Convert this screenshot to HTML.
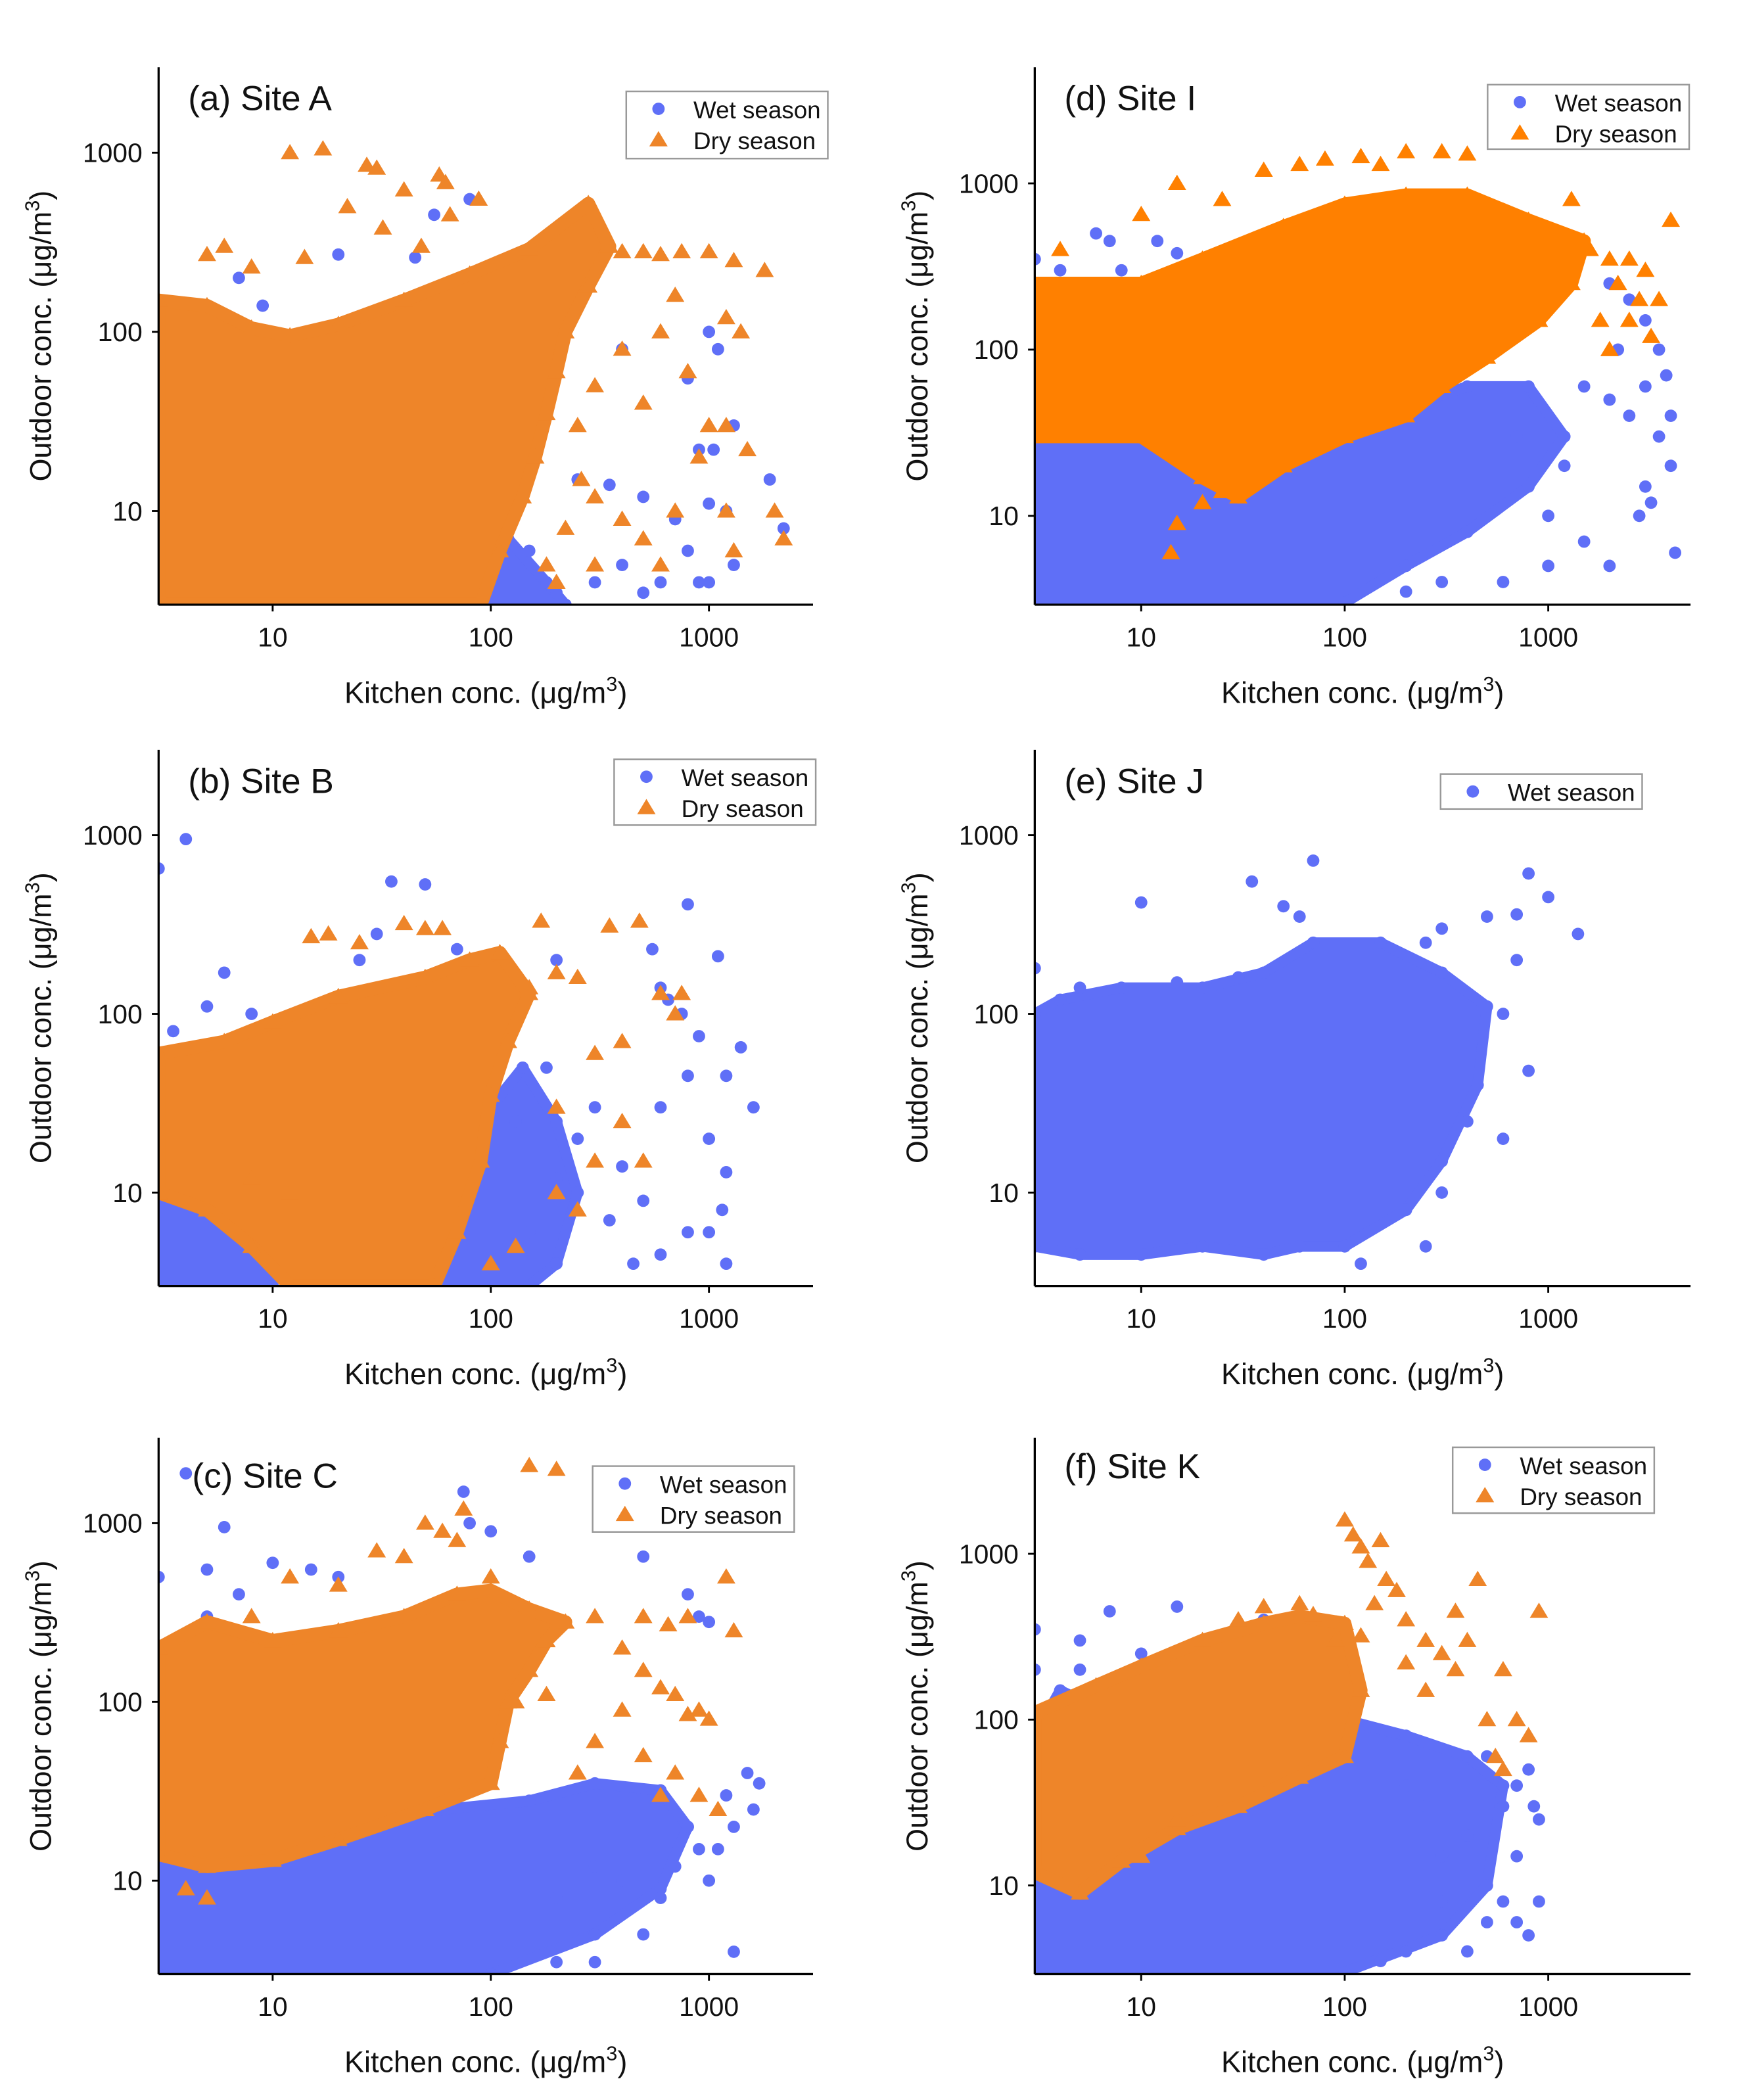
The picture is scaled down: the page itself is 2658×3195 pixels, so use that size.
<!DOCTYPE html>
<html><head><meta charset="utf-8"><style>
html,body{margin:0;padding:0;background:#fff}
svg{display:block}
text{font-family:"Liberation Sans",Arial,sans-serif;fill:#111}
</style></head><body>
<svg id="fig" width="2658" height="3195" viewBox="0 0 1300 1562.7" xmlns="http://www.w3.org/2000/svg"></svg>
<script>
// ---------- DATA (kitchen, outdoor in µg/m3) ----------
const aWetCloud=[[70,3],[90,6],[120,7],[180,4],[220,3]];
const aDryCloud=[[3,3],[3,150],[5,140],[8,105],[12,95],[20,110],[40,150],[80,210],[150,290],[280,520],[350,300],[280,180],[220,100],[200,60],[180,35],[160,20],[140,12],[110,6],[90,3]];
const aDry=[[12,1000],[17,1050],[27,850],[30,820],[40,620],[58,750],[62,680],[22,500],[32,380],[48,300],[65,450],[88,550],[5,270],[6,300],[14,260],[8,230],[400,280],[500,280],[600,270],[750,280],[1000,280],[1300,250],[1800,220],[700,160],[1200,120],[1400,100],[600,100],[400,80],[800,60],[1000,30],[1200,30],[900,20],[1500,22],[700,10],[1200,10],[2000,10],[2200,7],[1300,6],[500,7],[300,5],[600,5],[200,4],[400,9],[500,40],[300,50],[250,30],[260,15],[220,8],[300,12],[180,5]];
const aWet=[[80,550],[55,450],[20,270],[45,260],[7,200],[9,140],[1000,100],[1100,80],[800,55],[400,80],[1300,30],[1050,22],[900,22],[1900,15],[1000,11],[1200,10],[700,9],[2200,8],[1300,5],[900,4],[1000,4],[600,4],[800,6],[400,5],[300,4],[200,3.5],[500,3.5],[150,6],[350,14],[250,15],[500,12]];

const bWetCloud=[[3,3],[3,12],[6,9],[8,6],[10,3]];
const bWetCloud2=[[50,3],[70,10],[100,30],[140,50],[200,25],[250,10],[200,4],[150,3]];
const bDryCloud=[[3,10],[3,60],[6,70],[10,90],[20,125],[50,160],[80,200],[110,220],[150,130],[120,70],[100,35],[90,15],[70,6],[55,3],[12,3],[8,5],[5,8]];
const bDry=[[15,270],[18,280],[25,250],[40,320],[50,300],[60,300],[170,330],[350,310],[480,330],[250,160],[200,170],[150,140],[600,130],[750,130],[700,100],[400,70],[300,60],[200,30],[400,25],[500,15],[300,15],[200,10],[250,8],[130,5],[100,4],[8,12],[12,10]];
const bWet=[[4,950],[3,650],[35,550],[50,530],[25,200],[30,280],[70,230],[6,170],[5,110],[8,100],[3.5,80],[200,200],[550,230],[800,410],[1100,210],[600,140],[750,100],[650,120],[900,75],[1400,65],[1200,45],[800,45],[600,30],[1000,20],[1600,30],[1200,13],[1150,8],[1000,6],[800,6],[500,9],[400,14],[300,30],[250,20],[200,12],[350,7],[450,4],[600,4.5],[1200,4],[150,6],[130,25],[180,50]];

const cWetCloud=[[3,3],[3,60],[4,40],[8,22],[20,22],[60,25],[150,28],[300,35],[600,32],[800,20],[600,9],[300,5],[100,3]];
const cDryCloud=[[3,14],[3,200],[5,280],[10,220],[20,250],[40,300],[70,400],[100,420],[150,330],[220,280],[180,220],[150,150],[120,100],[110,60],[100,35],[50,25],[20,17],[10,13],[5,12]];
const cDry=[[150,2100],[200,2000],[75,1200],[60,900],[50,1000],[30,700],[40,650],[70,800],[20,450],[12,500],[8,300],[100,500],[300,300],[500,300],[650,270],[1200,500],[1300,250],[800,300],[400,200],[500,150],[600,120],[700,110],[900,90],[1000,80],[800,85],[400,90],[300,60],[500,50],[700,40],[900,30],[1100,25],[600,30],[250,40],[180,110],[130,100],[5,8],[4,9]];
const cWet=[[4,1900],[6,950],[75,1500],[100,900],[80,1000],[150,650],[500,650],[3,500],[5,550],[7,400],[10,600],[15,550],[20,500],[5,300],[3.5,200],[800,400],[900,300],[1000,280],[1500,40],[1700,35],[1200,30],[1300,20],[1600,25],[900,15],[700,12],[1000,10],[1300,4],[500,5],[300,3.5],[200,3.5],[600,8],[800,20],[1100,15],[400,10],[300,12],[200,8]];

const dWetCloud=[[3,3],[3,45],[6,35],[15,25],[50,25],[150,40],[400,60],[800,60],[1200,30],[800,15],[400,8],[200,5],[100,3]];
const dDryCloud=[[3,30],[3,250],[10,250],[20,350],[50,550],[100,750],[200,850],[400,850],[800,600],[1500,450],[1300,250],[900,150],[500,90],[300,60],[200,40],[100,30],[50,20],[30,13],[20,17],[10,30],[5,30]];
const dDry=[[300,1550],[400,1500],[200,1550],[150,1300],[120,1450],[80,1400],[60,1300],[40,1200],[15,1000],[25,800],[10,650],[1300,800],[1600,400],[2000,350],[2500,350],[3000,300],[2200,250],[2800,200],[3500,200],[1800,150],[2500,150],[3200,120],[4000,600],[2000,100],[3,250],[4,400],[14,6],[15,9],[20,12],[25,14],[6,60]];
const dWet=[[3,350],[4,300],[6,500],[7,450],[8,300],[12,450],[15,380],[20,350],[5,200],[12,150],[3,200],[1500,400],[2000,250],[2500,200],[3000,150],[2200,100],[3500,100],[3800,70],[3000,60],[4000,40],[3500,30],[2500,40],[2000,50],[1500,60],[3000,15],[4000,20],[4200,6],[2000,5],[1000,5],[1500,7],[600,4],[300,4],[200,3.5],[1000,10],[1200,20],[700,30],[2800,10],[3200,12]];

const eWetCloud=[[3,5],[3,100],[4,120],[8,140],[20,140],[40,170],[70,250],[150,250],[300,170],[500,110],[450,40],[300,15],[200,8],[100,5],[60,5],[40,4.5],[20,5],[10,4.5],[5,4.5]];
const eWet=[[10,420],[35,550],[70,720],[800,610],[1000,450],[1400,280],[700,360],[500,350],[300,300],[250,250],[50,400],[60,350],[800,48],[600,20],[400,25],[300,10],[250,5],[120,4],[3,180],[5,140],[15,150],[30,160],[700,200],[600,100]];

const fWetCloud=[[3,3],[3,80],[4,150],[8,100],[20,100],[60,130],[100,100],[200,80],[400,60],[600,40],[500,10],[300,5],[100,3]];
const fDryCloud=[[3,12],[3,110],[6,160],[10,210],[20,300],[40,380],[60,420],[100,380],[120,150],[100,60],[60,45],[30,30],[15,22],[8,14],[5,9]];
const fDry=[[100,1600],[120,1100],[110,1300],[150,1200],[130,900],[160,700],[140,500],[180,600],[200,400],[250,300],[300,250],[350,200],[400,300],[450,700],[600,200],[700,100],[800,80],[900,450],[350,450],[250,150],[200,220],[500,100],[600,50],[550,60],[15,25],[10,15],[60,500],[40,480],[30,400],[80,250],[90,300],[70,430],[120,320]];
const fWet=[[3,350],[5,300],[7,450],[15,480],[40,400],[3,200],[5,200],[10,250],[800,50],[900,25],[850,30],[700,40],[600,30],[500,60],[400,20],[300,15],[700,15],[800,5],[600,8],[500,6],[400,4],[700,6],[200,4],[150,3.5],[300,8],[900,8],[250,30],[200,40]];

const xTicks=[10,100,1000];
const yTicks=[10,100,1000];

// ---------- LAYOUT ----------
const WET='#5f6ff7', DRY='#ee8529';
const NS='http://www.w3.org/2000/svg';
const svg=document.getElementById('fig');
function mk(tag,attrs,parent){const e=document.createElementNS(NS,tag);for(const k in attrs)e.setAttribute(k,attrs[k]);(parent||svg).appendChild(e);return e;}

const panels=[
 {id:'a',title:'(a) Site A',x0:118,x1:605,yb:450,yt:50,xd:[3,3000],yd:[3,3000],wet:aWet,dry:aDry,wc:[aWetCloud],dc:aDryCloud,dryCol:DRY,leg:[466,68,150,50],tx:140,ty:82},
 {id:'b',title:'(b) Site B',x0:118,x1:605,yb:957,yt:558,xd:[3,3000],yd:[3,3000],wet:bWet,dry:bDry,wc:[bWetCloud,bWetCloud2],dc:bDryCloud,dryCol:DRY,leg:[457,565,150,49],tx:140,ty:590},
 {id:'c',title:'(c) Site C',x0:118,x1:605,yb:1469,yt:1070,xd:[3,3000],yd:[3,3000],wet:cWet,dry:cDry,wc:[cWetCloud],dc:cDryCloud,dryCol:DRY,leg:[441,1091,150,49],tx:143,ty:1107},
 {id:'d',title:'(d) Site I',x0:770,x1:1258,yb:450,yt:50,xd:[3,5000],yd:[2.92,5000],wet:dWet,dry:dDry,wc:[dWetCloud],dc:dDryCloud,dryCol:'#ff8000',leg:[1107,63,150,48],tx:792,ty:82},
 {id:'e',title:'(e) Site J',x0:770,x1:1258,yb:957,yt:558,xd:[3,5000],yd:[3,3000],wet:eWet,dry:null,wc:[eWetCloud],dc:null,dryCol:DRY,leg:[1072,576,150,26],tx:792,ty:590},
 {id:'f',title:'(f) Site K',x0:770,x1:1258,yb:1469,yt:1070,xd:[3,5000],yd:[2.92,5000],wet:fWet,dry:fDry,wc:[fWetCloud],dc:fDryCloud,dryCol:DRY,leg:[1081,1077,150,49],tx:792,ty:1100}
];

function tri(g,cx,cy,s,col){
 return mk('polygon',{points:`${cx},${cy-s} ${cx-s*1.05},${cy+s*0.75} ${cx+s*1.05},${cy+s*0.75}`,fill:col},g);
}

panels.forEach(P=>{
 const L=Math.log10;
 const sx=v=>P.x0+(L(v)-L(P.xd[0]))/(L(P.xd[1])-L(P.xd[0]))*(P.x1-P.x0);
 const sy=v=>P.yb-(L(v)-L(P.yd[0]))/(L(P.yd[1])-L(P.yd[0]))*(P.yb-P.yt);
 const g=mk('g',{});
 
 
 const cp=mk('clipPath',{id:'clip'+P.id},g);
 mk('rect',{x:P.x0,y:P.yt,width:P.x1-P.x0,height:P.yb-P.yt},cp);
 const plot=mk('g',{'clip-path':`url(#clip${P.id})`},g);
 
 
 P.wc.forEach(cl=>{
  const poly=mk('polygon',{points:cl.map(d=>sx(d[0])+','+sy(d[1])).join(' '),fill:WET,stroke:WET,'stroke-width':8,'stroke-linejoin':'round'},plot);
  
  
  cl.forEach(d=>{
   const c=mk('circle',{cx:sx(d[0]),cy:sy(d[1]),r:4.6,fill:WET},plot);
   
   
  });
 });
 P.wet.forEach(d=>{
  const c=mk('circle',{cx:sx(d[0]),cy:sy(d[1]),r:4.6,fill:WET},plot);
  
  
 });
 if(P.dc){
  const poly=mk('polygon',{points:P.dc.map(d=>sx(d[0])+','+sy(d[1])).join(' '),fill:P.dryCol,stroke:P.dryCol,'stroke-width':10,'stroke-linejoin':'round'},plot);
  
  
  P.dc.forEach(d=>{
   const t=tri(plot,sx(d[0]),sy(d[1]),6.5,P.dryCol);
   
   
  });
 }
 if(P.dry)P.dry.forEach(d=>{
  const t=tri(plot,sx(d[0]),sy(d[1]),6.5,P.dryCol);
  
  
 });
 const ya=mk('line',{x1:P.x0,y1:P.yt,x2:P.x0,y2:P.yb,stroke:'#000','stroke-width':1.6},g);
 
 
 const xa=mk('line',{x1:P.x0,y1:P.yb,x2:P.x1,y2:P.yb,stroke:'#000','stroke-width':1.6},g);
 
 
 xTicks.forEach(v=>{
  const x=sx(v);
  mk('line',{x1:x,y1:P.yb,x2:x,y2:P.yb+5,stroke:'#000','stroke-width':1.4},g);
  const t=mk('text',{x:x,y:P.yb+31,'text-anchor':'middle','font-size':20},g);
  t.textContent=v;
  
  
 });
 yTicks.forEach(v=>{
  const y=sy(v);
  mk('line',{x1:P.x0-5,y1:y,x2:P.x0,y2:y,stroke:'#000','stroke-width':1.4},g);
  const t=mk('text',{x:P.x0-12,y:y+7,'text-anchor':'end','font-size':20},g);
  t.textContent=v;
  
  
 });
 const tt=mk('text',{x:P.tx,y:P.ty,'font-size':26},g);
 tt.textContent=P.title;
 
 
 const xt=mk('text',{x:(P.x0+P.x1)/2,y:P.yb+73,'text-anchor':'middle','font-size':22},g);
 xt.innerHTML='Kitchen conc. (μg/m<tspan dy="-9" font-size="15">3</tspan><tspan dy="9">)</tspan>';
 
 
 const ycx=P.x0-80, ycy=(P.yt+P.yb)/2;
 const yt=mk('text',{x:ycx,y:ycy,'text-anchor':'middle','font-size':22,transform:`rotate(-90 ${ycx} ${ycy})`},g);
 yt.innerHTML='Outdoor conc. (μg/m<tspan dy="-9" font-size="15">3</tspan><tspan dy="9">)</tspan>';
 
 
 const [lx,ly,lw,lh]=P.leg;
 const lg=mk('g',{},g);
 
 
 mk('rect',{x:lx,y:ly,width:lw,height:lh,fill:'#fff',stroke:'#999','stroke-width':1.2},lg);
 const e1=mk('g',{},lg);
 
 
 mk('circle',{cx:lx+24,cy:ly+13,r:4.6,fill:WET},e1);
 const t1=mk('text',{x:lx+50,y:ly+20,'font-size':18},e1);t1.textContent='Wet season';
 if(P.dry){
  const e2=mk('g',{},lg);
  
  
  tri(e2,lx+24,ly+36,6.5,P.dryCol);
  const t2=mk('text',{x:lx+50,y:ly+43,'font-size':18},e2);t2.textContent='Dry season';
 }
});
</script>
</body></html>
